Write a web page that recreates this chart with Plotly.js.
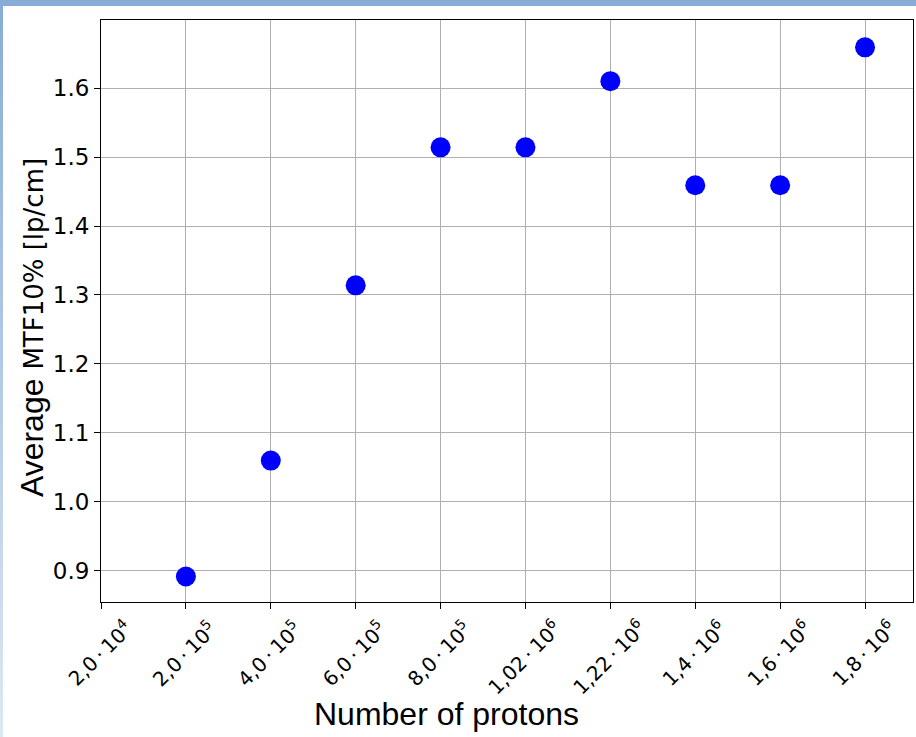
<!DOCTYPE html>
<html><head><meta charset="utf-8">
<script src="https://cdn.plot.ly/plotly-3.0.1.min.js"></script>
<style>
html,body{margin:0;padding:0;background:#fff;}
#wrap{position:relative;width:916px;height:737px;overflow:hidden;}
#chart{position:absolute;left:0;top:0;width:916px;height:737px;}
#topbar{position:absolute;left:0;top:0;width:916px;height:6px;background:#88acd8;z-index:5;}
#leftbar{position:absolute;left:0;top:0;width:3px;height:737px;background:linear-gradient(#88acd8,#dce7f3);z-index:5;}
</style></head>
<body><div id="wrap"><div id="chart"></div><div id="topbar"></div><div id="leftbar"></div></div>
<script>
var categories = ["2e4","2e5","4e5","6e5","8e5","1.02e6","1.22e6","1.4e6","1.6e6","1.8e6"];
var tickLabels = ["2,0\u2009\u00b7\u200910<sup>4</sup>","2,0\u2009\u00b7\u200910<sup>5</sup>","4,0\u2009\u00b7\u200910<sup>5</sup>","6,0\u2009\u00b7\u200910<sup>5</sup>","8,0\u2009\u00b7\u200910<sup>5</sup>","1,02\u2009\u00b7\u200910<sup>6</sup>","1,22\u2009\u00b7\u200910<sup>6</sup>","1,4\u2009\u00b7\u200910<sup>6</sup>","1,6\u2009\u00b7\u200910<sup>6</sup>","1,8\u2009\u00b7\u200910<sup>6</sup>"];
var pointCats = ["2e5","4e5","6e5","8e5","1.02e6","1.22e6","1.4e6","1.6e6","1.8e6"];
var mtf10 = [0.892, 1.060, 1.314, 1.514, 1.514, 1.610, 1.459, 1.459, 1.659];
var yTickVals = [0.9,1.0,1.1,1.2,1.3,1.4,1.5,1.6];
var yTickText = ['0.9','1.0','1.1','1.2','1.3','1.4','1.5','1.6'];

// category positions on the category axis (index of each category)
var pointIdx = pointCats.map(function(c){ return categories.indexOf(c); });
var catIdx = categories.map(function(c, i){ return i; });

var trace = {
  x: pointIdx, y: mtf10, type: 'scatter', mode: 'markers',
  marker: {color: '#0000ff', size: 20, line: {width: 0}},
  cliponaxis: false, hoverinfo: 'none'
};

var annotations = catIdx.map(function(i){
  return {xref: 'x', yref: 'paper', x: i, xshift: -2, y: -0.017, xanchor: 'center', yanchor: 'top',
    textangle: -45, showarrow: false, text: tickLabels[i],
    font: {family: 'DejaVu Sans', size: 20, color: '#000'}};
});
annotations.push({xref: 'paper', yref: 'paper', x: -0.0855, y: 0.4716, textangle: -90,
  xanchor: 'center', yanchor: 'middle', showarrow: false,
  text: '<span style="font-family:Liberation Sans;font-size:32px">Average </span><span style="font-family:DejaVu Sans;font-size:26px">MTF10% [lp/cm]</span>',
  font: {color: '#000'}});
annotations.push({xref: 'paper', yref: 'paper', x: 0.4249, y: -0.1924,
  xanchor: 'center', yanchor: 'middle', showarrow: false,
  text: 'Number of protons', font: {family: 'Liberation Sans', size: 32, color: '#000'}});

var layout = {
  width: 916, height: 737,
  margin: {l: 101, r: 3, t: 20, b: 135},
  paper_bgcolor: '#ffffff', plot_bgcolor: '#ffffff',
  showlegend: false,
  font: {family: 'DejaVu Sans', color: '#000'},
  xaxis: {
    type: 'linear', tickmode: 'array', tickvals: catIdx, ticktext: tickLabels, showticklabels: false,
    range: [0, 9.565],
    ticks: 'outside', ticklen: 6, tickcolor: '#000', tickwidth: 1,
    showgrid: true, gridcolor: '#b0b0b0', gridwidth: 1,
    showline: true, linecolor: '#000', linewidth: 1, mirror: true,
    zeroline: false, automargin: false
  },
  yaxis: {
    range: [0.855, 1.6986],
    tickmode: 'array', tickvals: yTickVals, ticktext: yTickText,
    tickfont: {family: 'DejaVu Sans', size: 23, color: '#000'},
    ticks: 'outside', ticklen: 6, tickcolor: '#000', tickwidth: 1,
    showgrid: true, gridcolor: '#b0b0b0', gridwidth: 1,
    showline: true, linecolor: '#000', linewidth: 1, mirror: true,
    zeroline: false, automargin: false
  },
  annotations: annotations
};
Plotly.newPlot('chart', [trace], layout, {staticPlot: true, displayModeBar: false});
</script></body></html>
